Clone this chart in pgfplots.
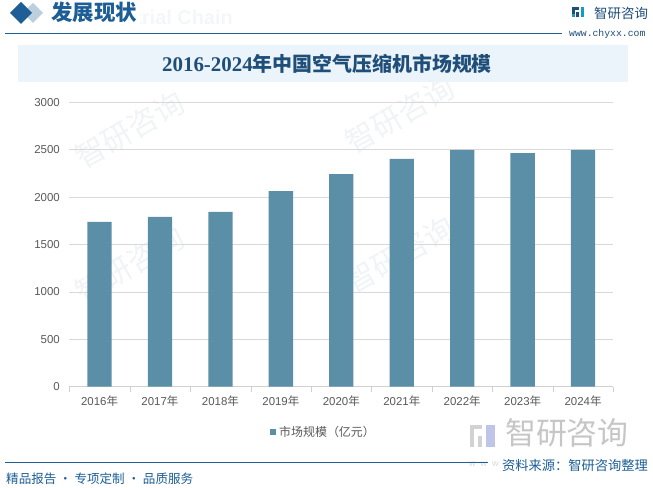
\documentclass[border=0pt]{standalone}
\usepackage{fontspec}
\usepackage{pgfplots}
\pgfplotsset{compat=1.18}
\setmainfont{Liberation Sans}
\newfontfamily\cjk{Noto Sans CJK SC}
\newfontfamily\serif{Liberation Serif}
\newfontfamily\mono{Liberation Mono}

\definecolor{barblue}{HTML}{5B8FA8}
\definecolor{gridc}{HTML}{D9D9D9}
\definecolor{axisc}{HTML}{D0D0D0}
\definecolor{labc}{HTML}{595959}
\definecolor{navy}{HTML}{1C5E95}
\definecolor{titlec}{HTML}{1F4E79}
\definecolor{band}{HTML}{EAF4FA}
\definecolor{wm}{HTML}{F0F4F7}

\newcommand{\yr}[1]{#1{\cjk 年}}

\begin{document}
\begin{tikzpicture}
% page frame and decorations, pixel coordinates
\begin{scope}[x=1bp,y=-1bp]
\fill[white] (0,0) rectangle (653,488);
\useasboundingbox (0,0) rectangle (653,488);

% watermarks
\foreach \p in {(130,130),(130,265),(400,115),(400,255)}
  \node[rotate=30,text=wm,font=\cjk\fontsize{30}{30}\selectfont] at \p {智研咨询};

% header
\node[anchor=west,text=band!80!navy!20,font=\bfseries\fontsize{20}{20}\selectfont,inner sep=0pt] at (82,17) {Industrial Chain};
\fill[navy!30] (33,3) -- (43,13) -- (33,23) -- (23,13) -- cycle;
\fill[navy] (21,2) -- (32,13) -- (21,24) -- (10,13) -- cycle;
\fill[white] (50,2) rectangle (140,24);
\node[anchor=west,text=navy,font=\cjk\bfseries\fontsize{21.5}{21.5}\selectfont,inner sep=0pt] at (51,12.5) {发展现状};
\draw[navy,line width=1.2bp] (5,33.5) -- (562,33.5);

% logo top right
\fill[titlec] (572,7.5) rectangle (578.5,10);
\fill[titlec] (572,7.5) rectangle (574.5,17.5);
\fill[titlec] (576,12) rectangle (578.5,17.5);
\fill[navy!60!cyan] (580.5,7.5) rectangle (583.5,17.5);
\fill[navy!60!cyan] (572,14.5) rectangle (575,17.5);
\node[anchor=west,text=titlec,font=\cjk\fontsize{13.5}{13.5}\selectfont,inner sep=0pt] at (594,13) {智研咨询};
\node[anchor=west,text=titlec,font=\mono\fontsize{9.8}{10}\selectfont,inner sep=0pt] at (569,34) {www.chyxx.com};

% title band
\fill[band] (18,45) rectangle (628,82);
\node[text=titlec,inner sep=0pt] at (327,64)
  {{\serif\bfseries\fontsize{21}{21}\selectfont 2016-2024}{\cjk\bfseries\fontsize{20}{20}\selectfont 年中国空气压缩机市场规模}};

% legend
\fill[barblue] (269.5,428.5) rectangle (276,435);
\node[anchor=west,text=labc,font=\cjk\fontsize{12}{12}\selectfont,inner sep=0pt] at (279,432) {市场规模（亿元）};

% bottom right watermark logo
\fill[gray!35] (470,425) rectangle (482,429);
\fill[gray!35] (470,425) rectangle (474,447);
\fill[gray!35] (478,436) rectangle (482,447);
\fill[cyan!30!blue!25] (486,425) rectangle (495,447);
\node[anchor=west,text=gray!45,font=\cjk\fontsize{31}{31}\selectfont,inner sep=0pt] at (505,433) {智研咨询};
\node[anchor=west,text=gray!30,font=\fontsize{9}{9}\selectfont,inner sep=0pt] at (469,464.5) {w\ \ w\ \ w};

% footer
\draw[navy,line width=1.2bp] (5,462.5) -- (488,462.5);
\node[anchor=west,text=navy,font=\cjk\fontsize{13.3}{13.3}\selectfont,inner sep=0pt] at (502,465.5) {资料来源：智研咨询整理};
\node[anchor=west,text=navy,font=\cjk\fontsize{12.6}{12.6}\selectfont,inner sep=0pt] at (6,478.5) {精品报告 · 专项定制 · 品质服务};
\end{scope}

\begin{axis}[
  at={(69.3bp,-386.7bp)}, anchor=south west,
  scale only axis, width=544bp, height=284.4bp,
  xmin=-0.5, xmax=8.5, ymin=0, ymax=3000,
  axis line style={draw=none},
  ybar, bar width=24.3bp, bar shift=0pt,
  xtick={0,...,8},
  xticklabels={\yr{2016},\yr{2017},\yr{2018},\yr{2019},\yr{2020},\yr{2021},\yr{2022},\yr{2023},\yr{2024}},
  minor xtick={-0.5,0.5,...,8.5},
  ytick={0,500,...,3000},
  major tick length=0pt, minor tick length=5bp,
  tick align=outside, tick pos=left,
  minor tick style={draw=axisc},
  ymajorgrids, grid style={draw=gridc, line width=0.8bp},
  every tick label/.append style={text=labc, font=\fontsize{11.5}{12}\selectfont},
  xticklabel style={yshift=-6bp},
  yticklabel style={xshift=-6bp},
  /pgf/number format/assume math mode=true,
  /pgf/number format/set thousands separator={},
  scaled y ticks=false,
  clip=false,
]
\draw[axisc, line width=0.8bp] (axis cs:-0.5,0) -- (axis cs:8.5,0);
\addplot[fill=barblue, draw=none] coordinates {
(0,1740) (1,1792) (2,1845) (3,2064) (4,2243) (5,2402) (6,2497) (7,2465) (8,2497)
};
\end{axis}
\end{tikzpicture}
\end{document}
